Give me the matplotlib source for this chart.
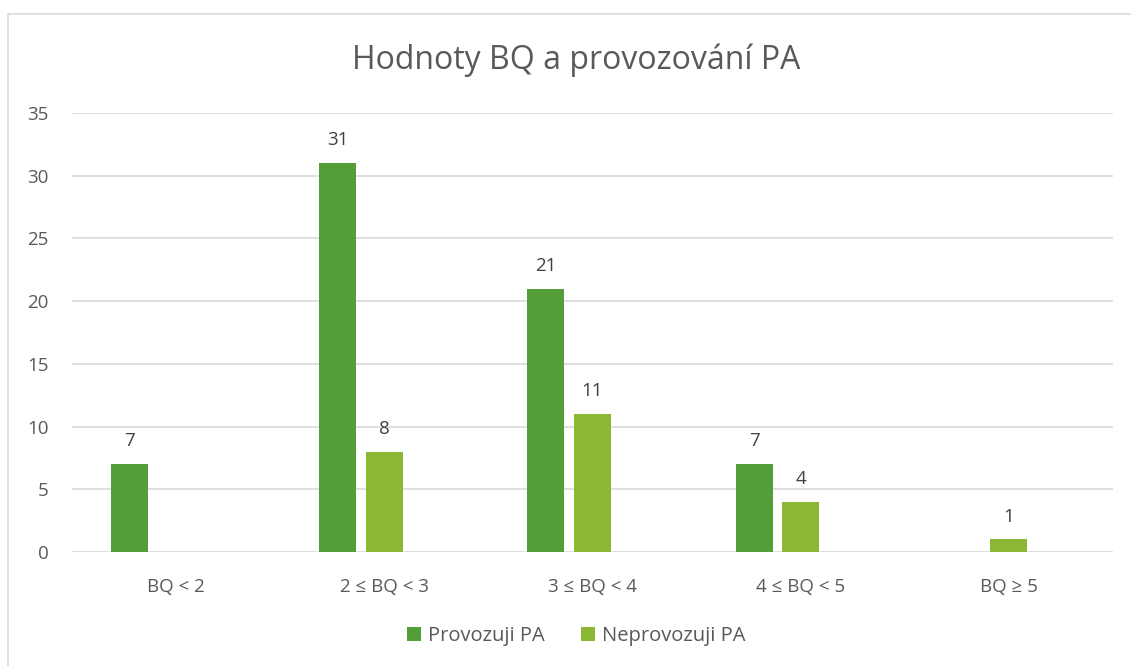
import numpy as np
import matplotlib.pyplot as plt
from matplotlib.patches import Rectangle

categories = ['BQ < 2', '2 ≤ BQ < 3', '3 ≤ BQ < 4', '4 ≤ BQ < 5', 'BQ ≥ 5']
provozuji = [7, 31, 21, 7, 0]
neprovozuji = [0, 8, 11, 4, 1]
series_names = ['Provozuji PA', 'Neprovozuji PA']

plt.rcParams['font.family'] = ['Open Sans', 'DejaVu Sans']
text_col = '#595959'
dark = '#549E39'
light = '#8AB833'

fig = plt.figure(figsize=(11.31, 6.66), dpi=100)
ax = fig.add_axes([72 / 1131, 1 - 552 / 666, (1113 - 72) / 1131, (552 - 113) / 666])

x = np.arange(len(categories))
w = 0.178
step = 0.2235

# third (empty) series slot keeps the pair shifted left, like the original
b1 = ax.bar(x - step, provozuji, w, color=dark, label=series_names[0])
b2 = ax.bar(x, neprovozuji, w, color=light, label=series_names[1])

for bars, vals in ((b1, provozuji), (b2, neprovozuji)):
    for r, v in zip(bars, vals):
        if v == 0:
            continue
        ax.text(r.get_x() + r.get_width() / 2, v + 1.1, str(v), ha='center', va='bottom',
                fontsize=13.5, color='#404040')

ax.set_xlim(-0.5, len(categories) - 0.5)
ax.set_ylim(0, 35)
ax.set_yticks(range(0, 36, 5))
ax.set_xticks(x)
ax.set_xticklabels(categories)
ax.tick_params(axis='both', length=0, labelsize=13.5, labelcolor=text_col)
ax.tick_params(axis='x', pad=19)
ax.tick_params(axis='y', pad=17)
ax.yaxis.grid(True, color='#D9D9D9', linewidth=1.2)
ax.set_axisbelow(True)
for s in ax.spines.values():
    s.set_visible(False)

cx = 576 / 1131
fig.text(cx, 1 - 60 / 666, 'Hodnoty BQ a provozování PA', ha='center', va='center',
         fontsize=23, color=text_col)

leg = fig.legend(loc='center', bbox_to_anchor=(cx, 1 - 636 / 666), ncol=2, frameon=False,
                 fontsize=14.5, handlelength=0.7, handleheight=0.7, columnspacing=1.8,
                 handletextpad=0.35)
for t in leg.get_texts():
    t.set_color(text_col)

fig.patches.append(Rectangle((8 / 1131, -0.1), 1.2, 1 - 14 / 666 + 0.1, transform=fig.transFigure,
                             fill=False, edgecolor='#D9D9D9', linewidth=1.2))

fig.savefig('out.png', dpi=100)
